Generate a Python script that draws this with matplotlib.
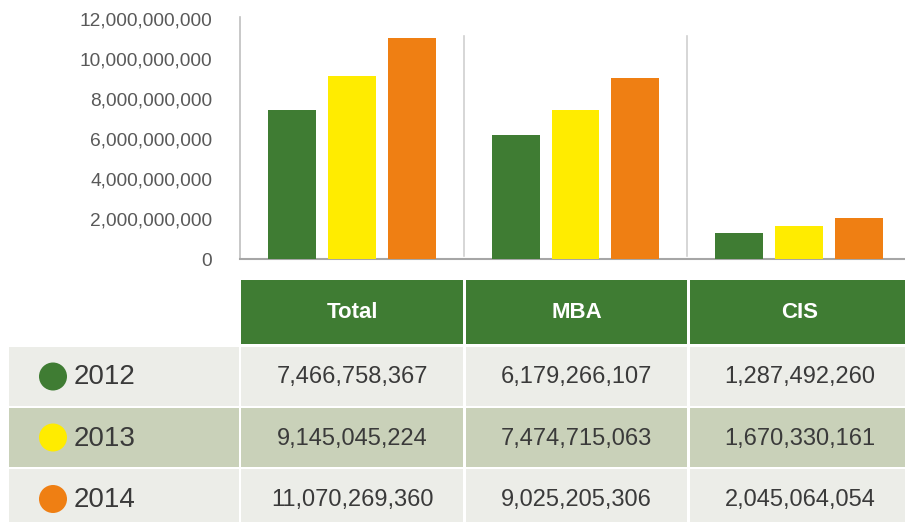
import matplotlib
matplotlib.use("Agg")
import matplotlib.pyplot as plt
import numpy as np
from matplotlib.patches import Rectangle, Circle
from matplotlib.ticker import FuncFormatter

plt.rcParams['font.family'] = ['Liberation Sans', 'DejaVu Sans']

categories = ["Total", "MBA", "CIS"]
years = ["2012", "2013", "2014"]
values = {
    "2012": [7466758367, 6179266107, 1287492260],
    "2013": [9145045224, 7474715063, 1670330161],
    "2014": [11070269360, 9025205306, 2045064054],
}
colors = {"2012": "#3F7C33", "2013": "#FFEC00", "2014": "#EF7F13"}
yticks = [0, 2e9, 4e9, 6e9, 8e9, 10e9, 12e9]

W, H = 905, 522
fig = plt.figure(figsize=(W / 100, H / 100), dpi=100)

# ---- table layer (pixel coordinates) ----
tax = fig.add_axes([0, 0, 1, 1])
tax.set_xlim(0, W)
tax.set_ylim(H, 0)
tax.axis("off")

col_edges = [(241, 463), (466, 687), (690, 910)]
label_col = (9, 239)
header_row = (280, 344)
row_edges = [(347, 406), (408, 467), (469, 530)]
row_colors = ["#ECEDE8", "#C9D1B9", "#ECEDE8"]
green = "#3F7C33"
txt = "#3A3A3A"

for (x0, x1), cat in zip(col_edges, categories):
    tax.add_patch(Rectangle((x0, header_row[0]), x1 - x0, header_row[1] - header_row[0],
                            facecolor=green, edgecolor="none"))
    tax.text((x0 + x1) / 2, (header_row[0] + header_row[1]) / 2 + 1, cat, color="white",
             fontsize=16, fontweight="bold", ha="center", va="center")

for i, (yr, (y0, y1), rc) in enumerate(zip(years, row_edges, row_colors)):
    tax.add_patch(Rectangle((label_col[0], y0), label_col[1] - label_col[0], y1 - y0,
                            facecolor=rc, edgecolor="none"))
    yc = (y0 + y1) / 2 if i < 2 else 499
    tax.add_patch(Circle((53, yc), 14, facecolor=colors[yr], edgecolor="none"))
    tax.text(74, yc + 1, yr, color=txt, fontsize=20, ha="left", va="center")
    for j, (x0, x1) in enumerate(col_edges):
        tax.add_patch(Rectangle((x0, y0), x1 - x0, y1 - y0, facecolor=rc, edgecolor="none"))
        tax.text((x0 + x1) / 2, yc + 1, f"{values[yr][j]:,}", color=txt,
                 fontsize=17, ha="center", va="center")

# ---- bar chart ----
left, right, bottom, top = 240, 911, 259, 17
ax = fig.add_axes([left / W, (H - bottom) / H, (right - left) / W, (bottom - top) / H])
ax.set_xlim(0, 3)
ax.set_ylim(0, 12.1e9)
ax.patch.set_alpha(0)

bw = 48 / 224
step = 60 / 224
x = np.arange(len(categories)) + 0.5
for k, yr in enumerate(years):
    ax.bar(x + (k - 1) * step, values[yr], width=bw, color=colors[yr], zorder=3)

for b in [1, 2]:
    ax.axvline(b, ymin=0.012, ymax=(bottom - 36) / (bottom - top), color="#D0D0D0", lw=1.2, zorder=1)

ax.set_yticks(yticks)
ax.yaxis.set_major_formatter(FuncFormatter(lambda v, p: f"{int(v):,}"))
ax.tick_params(axis="y", length=0, pad=20, labelsize=13.8, labelcolor="#595959")
ax.set_xticks([])
for s in ["top", "right"]:
    ax.spines[s].set_visible(False)
ax.spines["left"].set_color("#BFBFBF")
ax.spines["bottom"].set_color("#A6A6A6")
ax.spines["bottom"].set_linewidth(1.5)
ax.spines["left"].set_linewidth(1.2)

fig.savefig("out.png", dpi=100)
